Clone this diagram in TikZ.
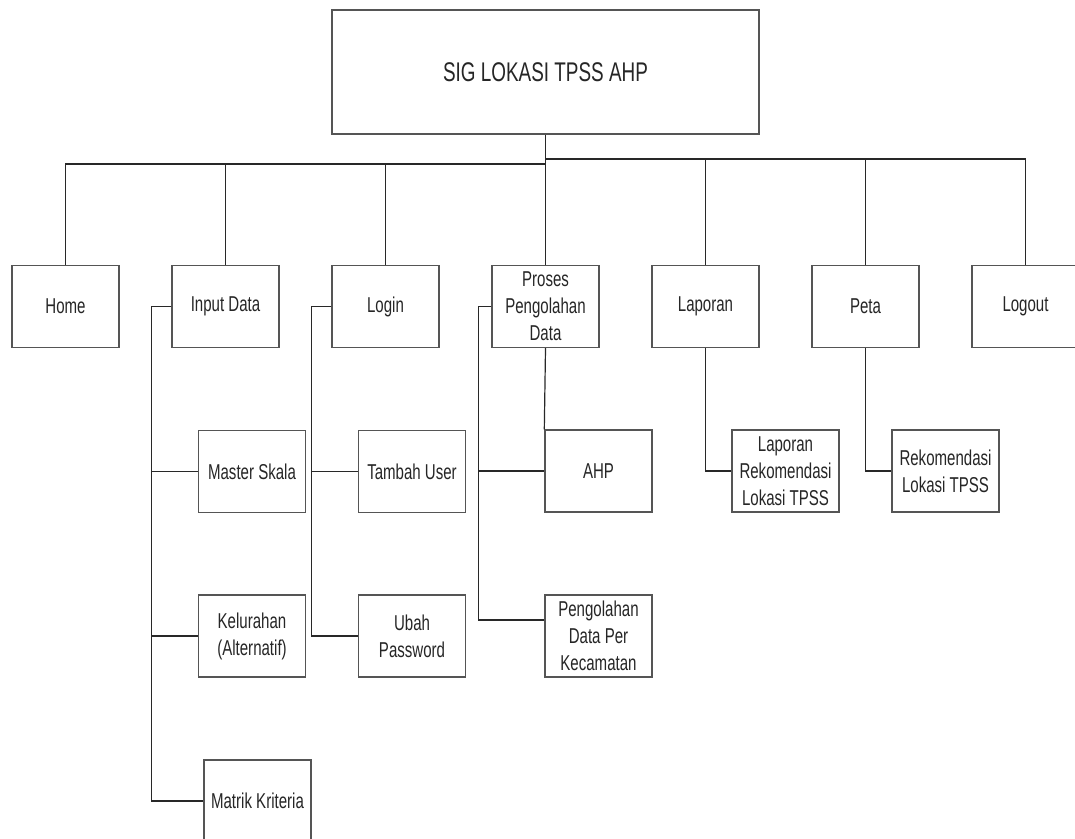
\documentclass[tikz,border=0pt]{standalone}
\usepackage{fontspec}
\setmainfont{Liberation Sans}[FakeStretch=0.7]
\usepackage{tikz}
\usetikzlibrary{positioning,calc}
\definecolor{boxline}{RGB}{85,85,85}
\definecolor{linkline}{RGB}{40,40,40}

\begin{document}
\begin{tikzpicture}[x=1pt, y=-1pt,
    menubox/.style={rectangle, draw=boxline, line width=1.4pt, fill=white,
        minimum width=107pt, minimum height=82pt, inner sep=1pt, align=center,
        font=\fontsize{21.5}{27}\selectfont, text=black!85},
    link/.style={draw=linkline, line width=1.2pt}
]
    \useasboundingbox (0,0) rectangle (1075,838);

    % root
    \node[menubox, minimum width=427pt, minimum height=124pt,
        font=\fontsize{27}{32}\selectfont] (root) at (545.5,72) {SIG LOKASI TPSS AHP};

    % main menu
    \node[menubox] (home) at (65.5,306.5)   {Home};
    \node[menubox] (inp)  at (225.5,306.5)  {Input Data};
    \node[menubox] (lgn)  at (385.5,306.5)  {Login};
    \node[menubox] (prs)  at (545.5,306.5)  {Proses\\Pengolahan\\Data};
    \node[menubox] (lap)  at (705.5,306.5)  {Laporan};
    \node[menubox] (peta) at (865.5,306.5)  {Peta};
    \node[menubox] (lgo)  at (1025.5,306.5) {Logout};

    % sub menu
    \node[menubox] (mskala) at (252,471.5)   {Master Skala};
    \node[menubox] (kel)    at (252,636)     {Kelurahan\\(Alternatif)};
    \node[menubox] (mtrk)   at (257.5,801)   {Matrik Kriteria};
    \node[menubox] (tuser)  at (412,471.5)   {Tambah User};
    \node[menubox] (upass)  at (412,636)     {Ubah\\Password};
    \node[menubox] (ahp)    at (598.5,471)   {AHP};
    \node[menubox] (pgl)    at (598.5,636)   {Pengolahan\\Data Per\\Kecamatan};
    \node[menubox] (laprek) at (785.5,471)   {Laporan\\Rekomendasi\\Lokasi TPSS};
    \node[menubox] (petrek) at (945.5,471)   {Rekomendasi\\Lokasi TPSS};

    \coordinate (busL) at (545.5,164);
    \coordinate (busR) at (545.5,159);

    \draw[link] (root.south) -- (prs.north);
    \foreach \n in {home,inp,lgn}
        \draw[link] (busL) -| (\n.north);
    \foreach \n in {lap,peta,lgo}
        \draw[link] (busR) -| (\n.north);

    \foreach \n in {mskala,kel,mtrk}
        \draw[link] (inp.west) -- ++(-20,0) |- (\n.west);
    \foreach \n in {tuser,upass}
        \draw[link] (lgn.west) -- ++(-20,0) |- (\n.west);
    \draw[link] (prs.west) -- ++(-13,0) |- (ahp.west);
    \draw[link] (prs.west) -- ++(-13,0) |- ([yshift=16pt]pgl.west);
    \draw[link] (prs.south) -- (ahp.north west);

    \draw[link] (lap.south) |- (laprek.west);
    \draw[link] (peta.south) |- (petrek.west);
\end{tikzpicture}
\end{document}
